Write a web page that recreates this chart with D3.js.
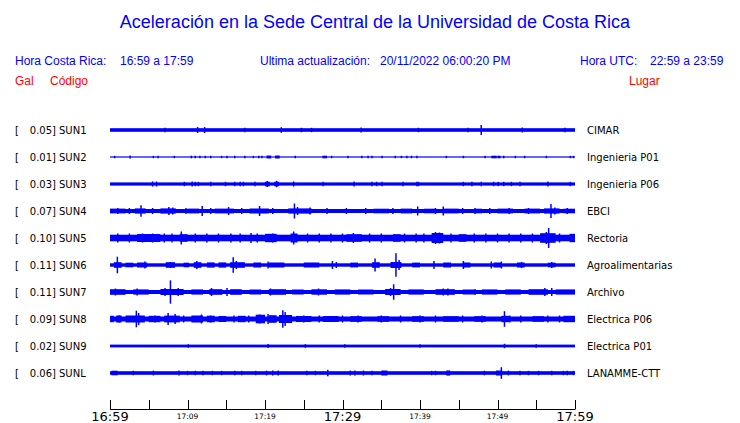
<!DOCTYPE html>
<html><head><meta charset="utf-8">
<script src="https://cdn.jsdelivr.net/npm/d3@7/dist/d3.min.js"></script>
<style>
html,body{margin:0;padding:0;background:#fff;}
svg{display:block;}
</style></head>
<body><svg id="c" width="740" height="423"></svg>
<script>
// ---------------- DATA ----------------
const stations = ["SUN1","SUN2","SUN3","SUN4","SUN5","SUN6","SUN7","SUN8","SUN9","SUNL"];
const places = ["CIMAR","Ingenieria P01","Ingenieria P06","EBCI","Rectoria","Agroalimentarias","Archivo","Electrica P06","Electrica P01","LANAMME-CTT"];
const galMax = ["0.05","0.01","0.03","0.07","0.10","0.11","0.11","0.09","0.02","0.06"];
// base noise half-amplitude (relative units) per station
const baseAmp = [1.8, 0.6, 1.6, 2.0, 3.3, 1.7, 2.0, 2.5, 1.4, 1.8];
// bursts: [start minute, end minute, half-amplitude]
const bursts = [
  [],
  [[20.2,20.8,1.5],[21.3,21.9,1.5],[27.4,28.0,1.3],[49.2,49.9,1.3],[50.0,50.4,1.3]],
  [[20.0,20.6,2.3],[21.2,21.8,2.3]],
  [[0,2,2.4],[3.2,4.6,2.6],[6.5,8.5,2.6],[10,11.5,2.4],[13.5,16,2.4],[18,20.5,2.5],[23,26,2.6],[34,36,2.3],[37.5,39,2.4],[40.5,42,2.3],[43,45,2.4],[47,48,2.3],[50,52,2.4],[53.5,55.5,2.4],[56,58,2.6],[58.5,60,2.3]],
  [[3.5,6.5,4],[9,10,3.8],[20,21.5,4.2],[23.3,24.2,4.5],[30.5,32.5,3.8],[36.5,37.5,3.8],[41.5,43,5],[45,46,3.8],[55.5,57.5,4.8],[59.3,60,4.2]],
  [[0.5,1.5,2.8],[2,3,2.3],[3.5,4.8,2.5],[7.2,8.4,2.8],[9.5,10.2,2.3],[10.8,11.8,2.8],[12.5,13.5,2.6],[14,15,2.6],[15.5,17.4,2.8],[18.5,19.5,2.5],[20.5,22.5,2.5],[25,27,2.5],[31,32,2.4],[33.8,34.8,2.8],[36.2,37.6,3],[39,40,2.4],[43,44,2.5],[45.5,46.5,2.5],[49.5,50.5,2.5],[52.5,53.5,2.5],[56.5,57.5,2.3]],
  [[0,2,2.8],[3,5,2.6],[6.5,9.5,3],[10.5,12,2.6],[12.8,14.5,2.8],[15.5,17,2.8],[18,19.5,2.5],[20.5,22.5,2.8],[23.5,25,2.5],[26,28,2.7],[29,31,2.6],[32,34,2.5],[35.5,37.5,3],[38.5,40.5,2.6],[42,44.5,2.8],[45.5,47,2.5],[48,50,2.6],[51,53,2.6],[54,56.5,2.8],[57.5,60,2.6]],
  [[0,0.5,3.2],[0.8,1.5,3.5],[2,4.5,3.5],[5,6.5,3.2],[7,9,3.4],[10.5,12,3.5],[12.5,13.5,3.3],[14,15,3],[16.5,17.5,3.2],[18.8,20,4.3],[20.5,21.5,3.8],[21.8,23.5,4],[24,26,3],[27.5,29.5,3],[31,32.5,2.8],[34.5,36,2.8],[39,40.5,2.8],[43,45,2.8],[47,48.5,2.8],[50.5,51.5,3.2],[54.5,56,2.8],[58.5,60,3.2]],
  [],
  [[0.2,1.0,2.3],[35.0,35.8,2.5],[43.4,43.9,2.6],[49.8,50.6,2.5]]
];
// spikes: [minute, half-amplitude]
const spikes = [
  [[7.1,2.2],[11.3,3],[12.2,3],[17.4,2.2],[22.1,2.8],[24.7,2.2],[26.0,2.2],[32.4,2.5],[39.8,2.2],[46.2,2.2],[47.9,5],[53.2,2.5],[58.7,2.2]],
  [[0.6,1.2],[2.6,1.5],[5.6,1.2],[6.2,1.2],[8.3,1.2],[10.5,1.3],[11.0,1.2],[11.6,1.3],[12.3,1.2],[13.0,1.3],[14.4,1.2],[15.1,1.2],[16.1,1.2],[17.4,1.2],[18.5,1.2],[19.2,1.3],[19.6,1.2],[23.9,1.2],[28.6,1.2],[30.7,1.2],[32.5,1.2],[33.3,1.3],[33.8,1.2],[35.1,1.2],[36.8,1.2],[37.6,1.2],[38.3,1.2],[38.9,1.2],[39.6,1.3],[43.4,1.2],[45.6,1.2],[48.4,1.3],[50.8,1.3],[52.3,1.2],[53.5,1.2],[56.3,1.2],[59.4,1.2],[59.8,1.2]],
  [[5.5,2.6],[6.0,2.5],[9.6,2.2],[10.6,2.5],[11.0,2.3],[11.4,2.2],[13.0,2.3],[14.9,2.2],[16.1,2.2],[16.8,2.2],[17.2,2.2],[18.7,2.2],[20.3,3],[21.5,3.2],[23.7,2.6],[27.5,2.2],[31.5,2.5],[33.8,2.2],[34.4,2.2],[35.1,2.2],[37.8,2.2],[39.6,2.2],[39.8,2.2],[45.6,2.2],[46.7,2.2],[47.9,2.3],[49.5,2.2],[50.1,2.2],[50.8,2.2],[51.8,2.2],[52.9,2.2],[56.5,2.5],[59.4,2.2]],
  [[4.0,5.7],[7.6,4],[8.1,3.5],[11.9,5],[15.3,4],[19.3,5],[23.8,7.5],[24.2,4],[25.8,3.5],[39.7,4.5],[43.0,4.5],[47.1,3],[56.9,7],[57.4,3.5],[1.0,3],[2.5,3],[5.5,3],[9.8,3],[13.0,3],[17.0,3],[21.0,3],[28.0,3],[30.5,3],[33.0,3],[36.5,3],[42.0,3],[45.5,3],[49.0,3],[51.5,3],[54.0,3],[59.0,3]],
  [[9.2,6.5],[18.2,5],[23.7,6.5],[31.4,5],[42.0,6],[42.5,5.5],[56.6,10],[56.3,6],[1.0,4.5],[2.5,4.5],[4.2,4.5],[5.5,4.5],[7.0,4.5],[8.0,4.5],[11.0,4.5],[12.5,4.5],[14.0,4.5],[15.6,4.5],[16.8,4.5],[19.0,4.5],[21.0,4.5],[25.5,4.5],[27.0,4.5],[28.5,4.5],[30.0,4.5],[33.5,4.5],[35.0,4.5],[38.0,4.5],[39.5,4.5],[40.5,4.5],[44.0,4.5],[47.0,4.5],[48.5,4.5],[50.0,4.5],[51.5,4.5],[53.0,4.5],[54.5,4.5],[58.0,4.5]],
  [[0.95,8.3],[4.5,3.5],[7.8,3],[11.2,4],[15.9,7.8],[16.3,4],[20.4,3.5],[28.7,4],[29.2,3],[34.2,6.5],[36.9,11.7],[37.3,5],[41.8,4],[45.6,4],[49.2,3.5],[50.5,3.5],[53.1,3],[57.0,3]],
  [[0.7,3.5],[3.5,3.5],[7.1,4],[7.8,11.7],[8.8,4],[13.1,4],[15.1,4],[20.7,3.5],[22.6,3],[26.9,3.5],[36.6,7.8],[36.2,4],[43.0,3.5],[43.6,3.5],[47.1,3],[56.1,4],[57.0,4]],
  [[3.4,8.3],[3.7,6],[7.5,6],[8.4,5],[11.8,4.5],[19.3,4.5],[20.4,5],[22.3,8.8],[22.6,7],[35.0,3.5],[50.9,7.8],[51.6,3.5],[1.2,3.5],[5.8,3.5],[9.5,3.5],[13.0,3.5],[16.0,3.5],[17.9,3.5],[25.0,3.5],[27.0,3.5],[30.0,3.5],[32.0,3.5],[37.5,3.5],[40.0,3.5],[42.0,3.5],[45.5,3.5],[48.0,3.5],[53.0,3.5],[56.5,3.5],[58.0,3.5]],
  [[10.1,1.8],[20.4,1.9],[25.2,1.8],[30.3,1.8],[40.0,1.8],[50.9,2.2],[55.0,1.8]],
  [[3.0,2.2],[5.6,2.4],[8.9,2.5],[10.0,2.2],[11.0,2.2],[12.0,2.2],[13.2,2.2],[14.4,2.2],[16.1,2.2],[17.0,2.2],[18.8,2.2],[20.2,2.4],[21.0,2.4],[21.7,2.4],[25.4,2.2],[26.5,2.2],[28.1,3.3],[31.0,2.4],[31.6,2.4],[32.7,2.5],[33.8,2.2],[41.5,2.2],[42.0,2.2],[48.3,2.3],[50.5,5.8],[51.4,2.4],[52.9,2.2],[54.0,2.2],[55.3,2.2],[57.0,2.2],[58.5,2.2],[59.0,2.2],[59.8,2.2]]
];
const tickMinutes = [0,10,20,30,40,50,60];
const tickLabels = ["16:59","17:09","17:19","17:29","17:39","17:49","17:59"];
const bigTicks = ["16:59","17:29","17:59"];

// ---------------- DRAW ----------------
const svg = d3.select("#c");
const BLUE = "#0000ff";
const x = d3.scaleLinear().domain([0,60]).range([110,575]);
const row = d3.scalePoint().domain(stations).range([130,373]);
const amp = d3.scaleLinear().domain([0,10]).range([0,10]);

svg.append("text").attr("x",375).attr("y",28).attr("text-anchor","middle")
  .attr("font-family","Liberation Sans, Arial, sans-serif").attr("font-size",18).attr("fill",BLUE)
  .text("Aceleración en la Sede Central de la Universidad de Costa Rica");

const hdr = [
  [15,65,"Hora Costa Rica:",BLUE],[120,65,"16:59 a 17:59",BLUE],
  [260,65,"Ultima actualización:",BLUE],[380,65,"20/11/2022 06:00:20 PM",BLUE],
  [580,65,"Hora UTC:",BLUE],[650,65,"22:59 a 23:59",BLUE],
  [15,85,"Gal","#ff0000"],[50,85,"Código","#ff0000"],[629,85,"Lugar","#ff0000"]
];
svg.selectAll("text.h").data(hdr).join("text").attr("class","h")
  .attr("x",d=>d[0]).attr("y",d=>d[1]).attr("fill",d=>d[3])
  .attr("font-family","Liberation Sans, Arial, sans-serif").attr("font-size",12).text(d=>d[2]);

const lab = {"font-family":"DejaVu Sans, sans-serif","font-size":10,"fill":"#000"};
stations.forEach((s,i)=>{
  const cy = row(s);
  const g = svg.append("g");
  const t1 = g.append("text").attr("x",15).attr("y",cy+3.5).text("[");
  const t2 = g.append("text").attr("x",56).attr("y",cy+3.5).attr("text-anchor","end").text(galMax[i]+"]");
  const t3 = g.append("text").attr("x",59).attr("y",cy+3.5).text(s);
  const t4 = g.append("text").attr("x",587).attr("y",cy+3.5).text(places[i]);
  [t1,t2,t3,t4].forEach(t=>{for(const k in lab) t.attr(k,lab[k]);});

  g.append("rect").attr("x",x(0)).attr("width",x(60)-x(0))
    .attr("y",cy-amp(baseAmp[i])).attr("height",2*amp(baseAmp[i])).attr("fill",BLUE);
  g.selectAll("rect.b").data(bursts[i]).join("rect").attr("class","b")
    .attr("x",d=>x(d[0])).attr("width",d=>Math.max(1,x(d[1])-x(d[0])))
    .attr("y",d=>cy-amp(d[2])).attr("height",d=>2*amp(d[2])).attr("fill",BLUE);
  g.selectAll("line.s").data(spikes[i]).join("line").attr("class","s")
    .attr("x1",d=>x(d[0])).attr("x2",d=>x(d[0]))
    .attr("y1",d=>cy-amp(d[1])).attr("y2",d=>cy+amp(d[1]))
    .attr("stroke",BLUE).attr("stroke-width",1.5);
});

// time axis
const ax = svg.append("g");
ax.append("line").attr("x1",x(0)).attr("x2",x(60)).attr("y1",409.5).attr("y2",409.5)
  .attr("stroke","#000").attr("stroke-width",1);
ax.selectAll("line.t").data(d3.range(0,61,5)).join("line").attr("class","t")
  .attr("x1",d=>Math.round(x(d))+0.5).attr("x2",d=>Math.round(x(d))+0.5)
  .attr("y1",400).attr("y2",409.5).attr("stroke","#000").attr("stroke-width",1);
ax.selectAll("text.tl").data(tickMinutes).join("text").attr("class","tl")
  .attr("x",d=>x(d)).attr("text-anchor","middle")
  .attr("y",(d,i)=>bigTicks.includes(tickLabels[i])?421:419)
  .attr("font-family","DejaVu Sans, sans-serif")
  .attr("font-size",(d,i)=>bigTicks.includes(tickLabels[i])?13:7.5)
  .attr("fill","#000")
  .text((d,i)=>tickLabels[i]);
</script></body></html>
